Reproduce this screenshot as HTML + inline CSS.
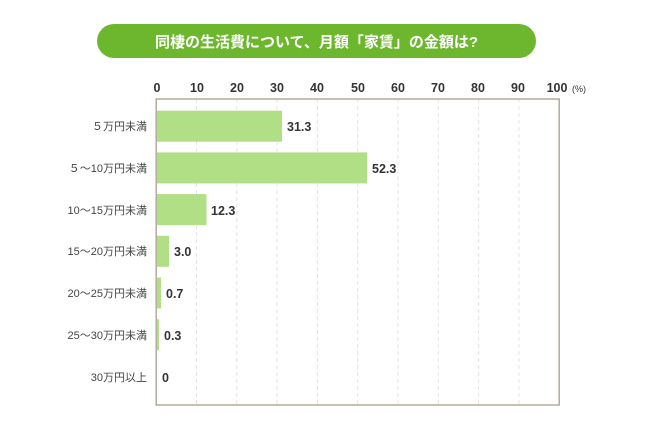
<!DOCTYPE html>
<html><head><meta charset="utf-8"><style>
body{margin:0;background:#fff;width:650px;height:437px;overflow:hidden;font-family:"Liberation Sans","Noto Sans CJK JP",sans-serif}
</style></head><body>
<svg width="650" height="437" xmlns="http://www.w3.org/2000/svg" font-family="Liberation Sans, Noto Sans CJK JP, sans-serif">
<rect x="97" y="24" width="439" height="34" rx="17" fill="#6db72e"/>
<text x="316.5" y="47" text-anchor="middle" font-size="15" font-weight="bold" fill="#fff">同棲の生活費について、月額「家賃」の金額は?</text>
<g stroke="#e4e4e4" stroke-dasharray="4,3">
<line x1="196.5" y1="99" x2="196.5" y2="405"/><line x1="236.8" y1="99" x2="236.8" y2="405"/><line x1="277.1" y1="99" x2="277.1" y2="405"/><line x1="317.4" y1="99" x2="317.4" y2="405"/><line x1="357.7" y1="99" x2="357.7" y2="405"/><line x1="398" y1="99" x2="398" y2="405"/><line x1="438.3" y1="99" x2="438.3" y2="405"/><line x1="478.6" y1="99" x2="478.6" y2="405"/><line x1="518.9" y1="99" x2="518.9" y2="405"/>
</g>
<rect x="156.2" y="99" width="403" height="306" fill="none" stroke="#b3ab9c" stroke-width="1.5"/>
<g font-size="12.5" fill="#333" text-anchor="middle" font-weight="bold">
<text x="157" y="92">0</text><text x="197" y="92">10</text><text x="237" y="92">20</text><text x="277" y="92">30</text><text x="317" y="92">40</text><text x="358" y="92">50</text><text x="398" y="92">60</text><text x="438" y="92">70</text><text x="478" y="92">80</text><text x="518" y="92">90</text><text x="557" y="92">100</text>
<text x="579" y="92" font-size="9" font-weight="normal">(%)</text>
</g>
<g fill="#b0df85">
<rect x="157" y="110.7" width="125" height="31"/>
<rect x="157" y="152.4" width="210" height="31"/>
<rect x="157" y="194.1" width="49.5" height="31"/>
<rect x="157" y="235.8" width="12" height="31"/>
<rect x="157" y="277.5" width="4" height="31"/>
<rect x="157" y="319.2" width="2" height="31"/>
</g>
<g font-size="12.5" fill="#333" font-weight="bold">
<text x="287" y="131">31.3</text>
<text x="372" y="173">52.3</text>
<text x="211" y="215">12.3</text>
<text x="174" y="256">3.0</text>
<text x="166" y="298">0.7</text>
<text x="164" y="340">0.3</text>
<text x="162" y="382">0</text>
</g>
<g font-size="11" fill="#444" text-anchor="end">
<text x="147" y="130">５万円未満</text>
<text x="147" y="172">５〜10万円未満</text>
<text x="147" y="214">10〜15万円未満</text>
<text x="147" y="255">15〜20万円未満</text>
<text x="147" y="297">20〜25万円未満</text>
<text x="147" y="339">25〜30万円未満</text>
<text x="147" y="381">30万円以上</text>
</g>
</svg>
</body></html>
